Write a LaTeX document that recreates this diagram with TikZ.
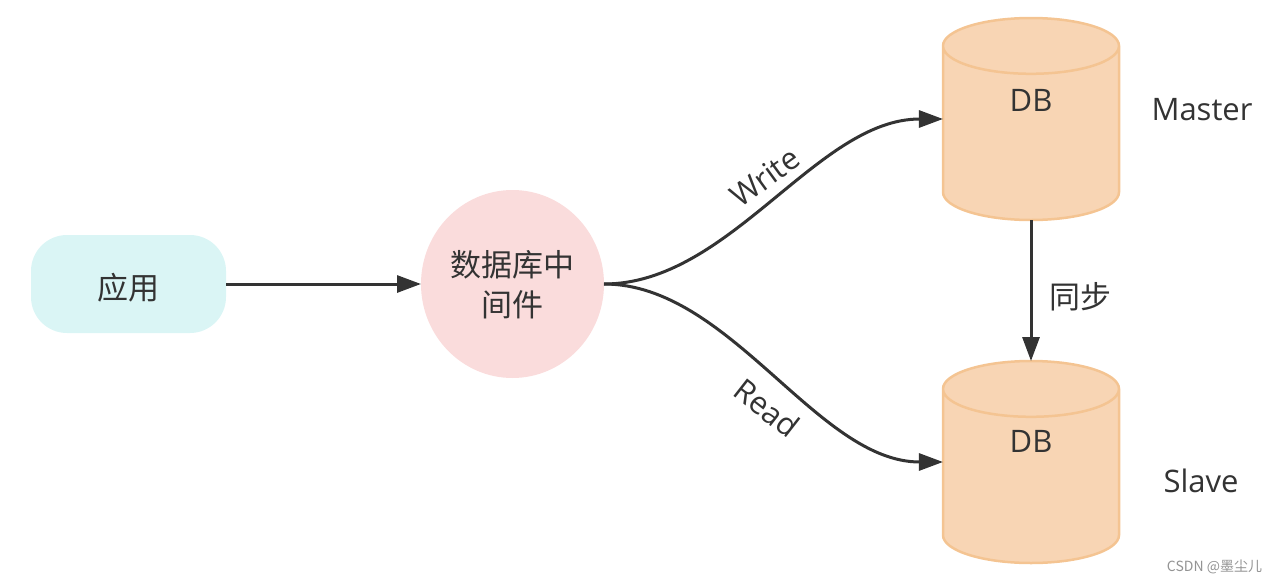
\documentclass[tikz,border=0pt]{standalone}
\usepackage{fontspec}
\usepackage{xcolor}
\setmainfont{Open Sans}
\newfontfamily\cjk{Noto Sans CJK SC}
\usetikzlibrary{shapes.geometric,arrows.meta,positioning}
\definecolor{appcolor}{RGB}{218,245,245}
\definecolor{midcolor}{RGB}{250,220,220}
\definecolor{dbcolor}{RGB}{248,213,180}
\definecolor{dbborder}{RGB}{244,196,146}
\definecolor{textcolor}{RGB}{51,51,51}

\begin{document}
\begin{tikzpicture}[
    x=1pt, y=-1pt,
    every node/.style={text=textcolor, outer sep=0pt, inner sep=0pt},
    app/.style={rectangle, rounded corners=36pt, fill=appcolor, minimum width=195pt, minimum height=98pt, text height=33pt, text depth=3pt, font=\fontsize{31}{36}\selectfont\cjk},
    middle/.style={ellipse, fill=midcolor, minimum width=183pt, minimum height=188pt, text height=68pt, align=center, font=\fontsize{31}{40}\selectfont\cjk},
    db/.style={cylinder, shape border rotate=90, shape aspect=3.1, inner sep=9pt, draw=dbborder, line width=2.5pt, fill=dbcolor, minimum width=176pt, minimum height=202pt},
    caption/.style={font=\fontsize{31}{36}\selectfont},
    cjkcaption/.style={font=\fontsize{31}{36}\selectfont\cjk},
    arrow/.style={-{Stealth[length=24pt,width=17pt,inset=0pt]}, line width=3pt, draw=textcolor}
]

\useasboundingbox (0,0) rectangle (1280,584);

% Nodes
\node[app] (app) at (128.5,284) {应用};
\node[middle, right=195pt of app] (mid) {数据库中\\间件};
\node[db, anchor=shape center] (master) at (1031,119) {};
\node[db, below=141pt of master] (slave) {};

% Texts
\node[caption] (masterdb) at (1031,100) {DB};
\node[caption] (slavedb) at (1031,441) {DB};
\node[caption] (masterlabel) at (1202,110) {Master};
\node[caption] (slavelabel) at (1201,481) {Slave};
\node[cjkcaption] (sync) at (1080,296.5) {同步};
\node[caption, rotate=36] (write) at (765,177) {Write};
\node[caption, rotate=-38] (read) at (767,408) {Read};

% Watermark
\node[font=\fontsize{14}{16}\selectfont\cjk, text=gray!85] (mark) at (1214.5,567) {CSDN @墨尘儿};

% Arrows
\draw[arrow] (app) -- (mid);
\draw[arrow] (mid.east) .. controls +(126,0) and +(-126,0) .. (master.shape center -| master.west);
\draw[arrow] (mid.east) .. controls +(126,0) and +(-126,0) .. (slave.shape center -| slave.west);
\draw[arrow] (master.south) -- (slave.north);

\end{tikzpicture}
\end{document}
